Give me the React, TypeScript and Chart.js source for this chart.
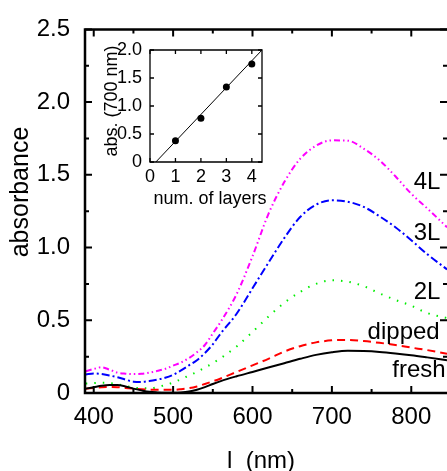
import React, { useEffect, useRef } from 'react';
import { Chart, registerables } from 'chart.js';

Chart.register(...registerables);

const FONT = "'Liberation Sans', Arial, Helvetica, sans-serif";

// ---- main spectra ----
const wavelengths = [390, 400, 410, 420, 430, 440, 450, 460, 470, 480, 490, 500, 510, 520, 530, 540, 550, 560, 580, 600, 620, 640, 660, 680, 700, 720, 740, 760, 780, 800, 820, 845];
const fresh = [0.03, 0.04, 0.05, 0.055, 0.055, 0.045, 0.03, 0.018, 0.008, 0.004, 0.002, 0.002, 0.004, 0.01, 0.022, 0.04, 0.062, 0.082, 0.115, 0.145, 0.175, 0.205, 0.235, 0.262, 0.28, 0.29, 0.288, 0.282, 0.272, 0.26, 0.245, 0.225];
const dipped = [0.03, 0.035, 0.04, 0.042, 0.04, 0.035, 0.03, 0.026, 0.023, 0.022, 0.022, 0.022, 0.026, 0.033, 0.045, 0.062, 0.08, 0.1, 0.145, 0.19, 0.235, 0.285, 0.322, 0.348, 0.362, 0.365, 0.357, 0.345, 0.33, 0.312, 0.295, 0.27];
const twoL = [0.065, 0.068, 0.07, 0.068, 0.06, 0.048, 0.038, 0.032, 0.032, 0.04, 0.055, 0.072, 0.095, 0.12, 0.145, 0.175, 0.205, 0.24, 0.32, 0.42, 0.525, 0.62, 0.695, 0.75, 0.775, 0.765, 0.735, 0.685, 0.64, 0.6, 0.55, 0.515];
const threeL = [0.128, 0.134, 0.13, 0.12, 0.108, 0.092, 0.078, 0.076, 0.082, 0.092, 0.105, 0.125, 0.155, 0.19, 0.225, 0.275, 0.335, 0.41, 0.545, 0.72, 0.895, 1.065, 1.21, 1.295, 1.325, 1.315, 1.28, 1.215, 1.14, 1.05, 0.955, 0.85];
const fourL = [0.15, 0.165, 0.177, 0.16, 0.14, 0.133, 0.13, 0.132, 0.14, 0.152, 0.166, 0.188, 0.21, 0.24, 0.28, 0.33, 0.41, 0.49, 0.68, 0.94, 1.23, 1.45, 1.61, 1.7, 1.737, 1.735, 1.68, 1.6, 1.49, 1.37, 1.27, 1.14];

const xTickValues = [400, 500, 600, 700, 800];
const xMinorValues = [450, 550, 650, 750, 850];
const yTickValues = [0, 0.5, 1, 1.5, 2, 2.5];
const yMinorValues = [0.25, 0.75, 1.25, 1.75, 2.25];

const curveLabels = ['4L', '3L', '2L', 'dipped', 'fresh'];
const curveLabelX = [803, 803, 803, 745, 776];
const curveLabelY = [1.45, 1.1, 0.69, 0.415, 0.155];

// ---- inset ----
const layers = [1, 2, 3, 4];
const abs700 = [0.38, 0.78, 1.34, 1.75];
const fitX = [0.23, 4.4];
const fitY = [0, 2.0];
const insetXTicks = [0, 1, 2, 3, 4];
const insetYTicks = [0, 0.5, 1, 1.5, 2];

type FrameCfg = {
  id: string;
  frameWidth: number;
  tickWidth: number;
  majorLen: number;
  minorLen: number;
  xMajor: number[];
  xMinor: number[];
  yMajor: number[];
  yMinor: number[];
  drawRight: boolean;
  titles: { text: string; x: number; y: number; rot: number; size: number }[];
  labels?: { text: string[]; x: number[]; y: number[]; size: number };
};

function makeFramePlugin(cfg: FrameCfg) {
  return {
    id: cfg.id,
    afterDatasetsDraw(chart: any) {
      const { ctx, chartArea: a, scales } = chart;
      const xs = scales.x;
      const ys = scales.y;
      ctx.save();
      ctx.strokeStyle = '#000';
      ctx.fillStyle = '#000';
      ctx.lineCap = 'butt';
      ctx.lineWidth = cfg.tickWidth;
      const xt = (vals: number[], len: number) => {
        vals.forEach((v) => {
          const p = xs.getPixelForValue(v);
          if (p < a.left - 0.5 || p > a.right + 0.5) return;
          ctx.beginPath();
          ctx.moveTo(p, a.bottom);
          ctx.lineTo(p, a.bottom - len);
          ctx.moveTo(p, a.top);
          ctx.lineTo(p, a.top + len);
          ctx.stroke();
        });
      };
      const yt = (vals: number[], len: number) => {
        vals.forEach((v) => {
          const p = ys.getPixelForValue(v);
          if (p < a.top - 0.5 || p > a.bottom + 0.5) return;
          ctx.beginPath();
          ctx.moveTo(a.left, p);
          ctx.lineTo(a.left + len, p);
          ctx.moveTo(a.right, p);
          ctx.lineTo(a.right - len, p);
          ctx.stroke();
        });
      };
      xt(cfg.xMajor, cfg.majorLen);
      xt(cfg.xMinor, cfg.minorLen);
      yt(cfg.yMajor, cfg.majorLen);
      yt(cfg.yMinor, cfg.minorLen);
      ctx.lineWidth = cfg.frameWidth;
      ctx.beginPath();
      ctx.moveTo(a.right + (cfg.drawRight ? 0 : 2), a.top);
      ctx.lineTo(a.left, a.top);
      ctx.lineTo(a.left, a.bottom);
      ctx.lineTo(a.right + (cfg.drawRight ? 0 : 2), a.bottom);
      if (cfg.drawRight) {
        ctx.lineTo(a.right, a.top);
        ctx.closePath();
      }
      ctx.stroke();
      if (cfg.labels) {
        const L = cfg.labels;
        ctx.font = `${L.size}px ${FONT}`;
        ctx.textAlign = 'left';
        ctx.textBaseline = 'middle';
        L.text.forEach((t, i) => {
          ctx.fillText(t, xs.getPixelForValue(L.x[i]), ys.getPixelForValue(L.y[i]));
        });
      }
      cfg.titles.forEach((t) => {
        ctx.save();
        ctx.font = `${t.size}px ${FONT}`;
        ctx.textAlign = 'center';
        ctx.textBaseline = 'middle';
        ctx.translate(t.x, t.y);
        ctx.rotate(t.rot);
        ctx.fillText(t.text, 0, 0);
        ctx.restore();
      });
      ctx.restore();
    },
  };
}

const fmtY = (v: any) => (Number(v) === 0 ? '0' : Number(v).toFixed(1));
const noGrid = { display: false, drawTicks: false, tickLength: 0 };

export default function App() {
  const mainRef = useRef<HTMLCanvasElement>(null);
  const insetRef = useRef<HTMLCanvasElement>(null);

  useEffect(() => {
    const mk = (vals: number[]) => wavelengths.map((w, i) => ({ x: w, y: vals[i] }));
    const series = [
      { label: 'fresh', data: mk(fresh), color: '#000000', dash: [] as number[], width: 2 },
      { label: 'dipped', data: mk(dipped), color: '#ff0000', dash: [8, 5], width: 2 },
      { label: '2L', data: mk(twoL), color: '#00ee00', dash: [1.5, 7], width: 2 },
      { label: '3L', data: mk(threeL), color: '#0000ff', dash: [8, 3, 2, 3], width: 2 },
      { label: '4L', data: mk(fourL), color: '#ff00ff', dash: [6, 3, 1.5, 3, 1.5, 3], width: 2 },
    ];

    const main = new Chart(mainRef.current as HTMLCanvasElement, {
      type: 'line',
      data: {
        datasets: series.map((s) => ({
          label: s.label,
          data: s.data,
          borderColor: s.color,
          borderDash: s.dash,
          borderWidth: s.width,
          pointRadius: 0,
          fill: false,
          cubicInterpolationMode: 'monotone' as const,
        })),
      },
      options: {
        animation: false,
        responsive: false,
        devicePixelRatio: 1,
        layout: { padding: { top: 29, left: 0, right: 0, bottom: 0 } },
        plugins: { legend: { display: false }, tooltip: { enabled: false } },
        scales: {
          x: {
            type: 'linear',
            min: 389,
            max: 845,
            afterBuildTicks: (s: any) => {
              s.ticks = xTickValues.map((v) => ({ value: v }));
            },
            afterFit: (s: any) => {
              s.height = 78;
            },
            grid: noGrid,
            border: { display: false },
            ticks: {
              color: '#000',
              font: { family: FONT, size: 24 },
              padding: 10,
              maxRotation: 0,
              autoSkip: false,
              callback: (v: any) => String(v),
            },
          },
          y: {
            type: 'linear',
            min: 0,
            max: 2.5,
            afterBuildTicks: (s: any) => {
              s.ticks = yTickValues.map((v) => ({ value: v }));
            },
            afterFit: (s: any) => {
              s.width = 85;
            },
            grid: noGrid,
            border: { display: false },
            ticks: {
              color: '#000',
              font: { family: FONT, size: 24 },
              padding: 15,
              autoSkip: false,
              callback: fmtY,
            },
          },
        },
      },
      plugins: [
        makeFramePlugin({
          id: 'mainFrame',
          frameWidth: 2.5,
          tickWidth: 2,
          majorLen: 7,
          minorLen: 4,
          xMajor: xTickValues,
          xMinor: xMinorValues,
          yMajor: yTickValues,
          yMinor: yMinorValues,
          drawRight: false,
          labels: { text: curveLabels, x: curveLabelX, y: curveLabelY, size: 24 },
          titles: [
            { text: 'absorbance', x: 21, y: 192, rot: -Math.PI / 2, size: 25 },
            { text: 'l  (nm)', x: 261, y: 461, rot: 0, size: 24 },
          ],
        }),
      ],
    } as any);

    const inset = new Chart(insetRef.current as HTMLCanvasElement, {
      type: 'scatter',
      data: {
        datasets: [
          {
            type: 'line',
            label: 'fit',
            data: fitX.map((x, i) => ({ x, y: fitY[i] })),
            borderColor: '#000',
            borderWidth: 1,
            pointRadius: 0,
            fill: false,
          },
          {
            type: 'scatter',
            label: 'abs',
            data: layers.map((x, i) => ({ x, y: abs700[i] })),
            backgroundColor: '#000',
            borderColor: '#000',
            pointRadius: 3.5,
            borderWidth: 0,
          },
        ],
      },
      options: {
        animation: false,
        responsive: false,
        devicePixelRatio: 1,
        layout: { padding: { top: 20, right: 18, left: 0, bottom: 0 } },
        plugins: { legend: { display: false }, tooltip: { enabled: false } },
        scales: {
          x: {
            type: 'linear',
            min: 0,
            max: 4.4,
            afterBuildTicks: (s: any) => {
              s.ticks = insetXTicks.map((v) => ({ value: v }));
            },
            afterFit: (s: any) => {
              s.height = 58;
            },
            grid: noGrid,
            border: { display: false },
            ticks: {
              color: '#000',
              font: { family: FONT, size: 18 },
              padding: 4,
              maxRotation: 0,
              autoSkip: false,
              callback: (v: any) => String(v),
            },
          },
          y: {
            type: 'linear',
            min: 0,
            max: 2,
            afterBuildTicks: (s: any) => {
              s.ticks = insetYTicks.map((v) => ({ value: v }));
            },
            afterFit: (s: any) => {
              s.width = 90;
            },
            grid: noGrid,
            border: { display: false },
            ticks: {
              color: '#000',
              font: { family: FONT, size: 18 },
              padding: 8,
              autoSkip: false,
              callback: fmtY,
            },
          },
        },
      },
      plugins: [
        makeFramePlugin({
          id: 'insetFrame',
          frameWidth: 1.3,
          tickWidth: 1.3,
          majorLen: 4,
          minorLen: 0,
          xMajor: insetXTicks,
          xMinor: [],
          yMajor: insetYTicks,
          yMinor: [],
          drawRight: true,
          titles: [
            { text: 'abs. (700 nm)', x: 52, y: 71, rot: -Math.PI / 2, size: 18 },
            { text: 'num. of layers', x: 150, y: 169, rot: 0, size: 18 },
          ],
        }),
      ],
    } as any);

    return () => {
      main.destroy();
      inset.destroy();
    };
  }, []);

  return (
    <div style={{ position: 'absolute', left: 0, top: 0, width: 447, height: 471, background: '#fff', overflow: 'hidden' }}>
      <canvas ref={mainRef} width={447} height={471} style={{ position: 'absolute', left: 0, top: 0 }} />
      <canvas ref={insetRef} width={220} height={190} style={{ position: 'absolute', left: 60, top: 30 }} />
    </div>
  );
}
